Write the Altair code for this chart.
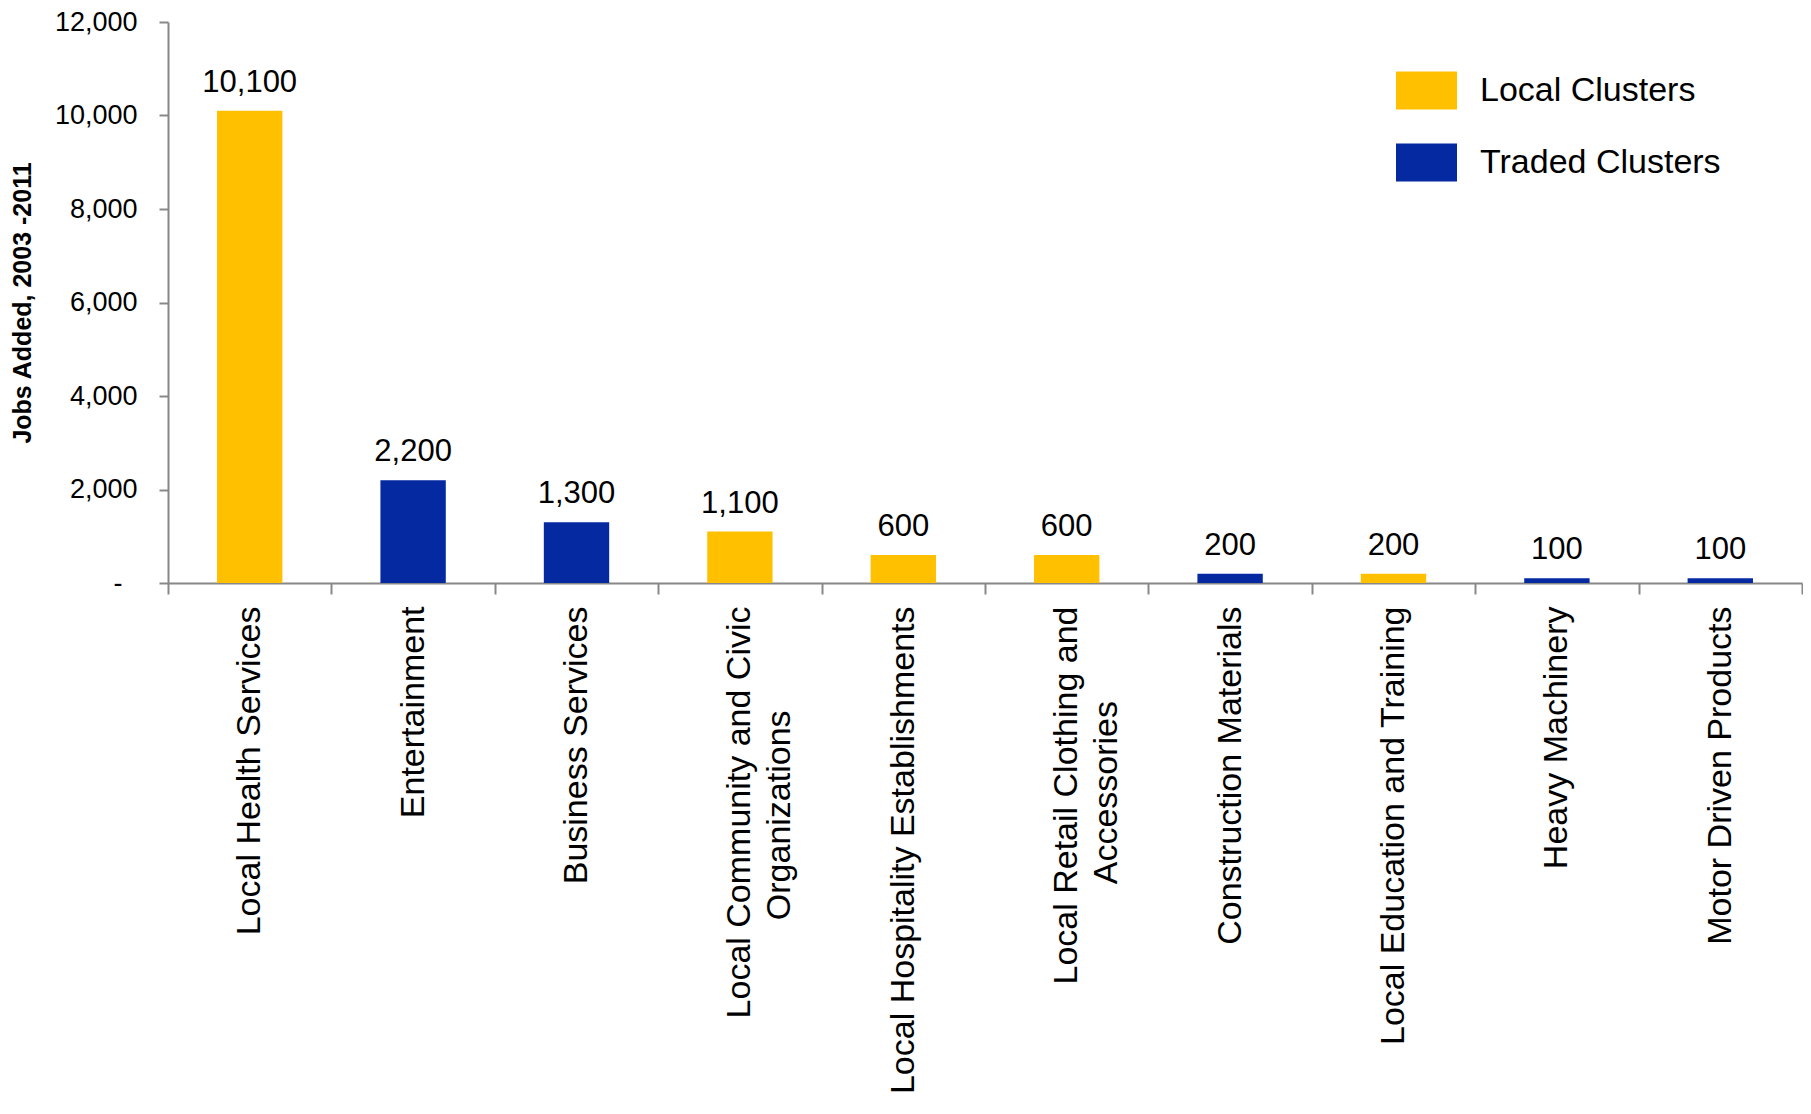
import altair as alt
import pandas as pd

# ---- data ----
categories = [
    "Local Health Services",
    "Entertainment",
    "Business Services",
    "Local Community and Civic|Organizations",
    "Local Hospitality Establishments",
    "Local Retail Clothing and|Accessories",
    "Construction Materials",
    "Local Education and Training",
    "Heavy Machinery",
    "Motor Driven Products",
]
jobs_added = [10100, 2200, 1300, 1100, 600, 600, 200, 200, 100, 100]
cluster_type = [
    "Local Clusters", "Traded Clusters", "Traded Clusters", "Local Clusters",
    "Local Clusters", "Local Clusters", "Traded Clusters", "Local Clusters",
    "Traded Clusters", "Traded Clusters",
]
legend_labels = ["Local Clusters", "Traded Clusters"]
legend_colors = ["#FFC000", "#0529A0"]
y_tick_values = [0, 2000, 4000, 6000, 8000, 10000, 12000]
y_title = "Jobs Added, 2003 -2011"

# padding (non-breaking spaces + zero-width end marker) to centre the
# second line of two-line labels
second_line_pad = {"Organizations": 11, "Accessories": 10}


def display_label(cat):
    parts = cat.split("|")
    if len(parts) == 2:
        n = second_line_pad.get(parts[1], 0)
        parts[1] = parts[1] + "\u00a0" * n + "\u200b"
    return "|".join(parts)


df = pd.DataFrame({
    "category": [display_label(c) for c in categories],
    "jobs": jobs_added,
    "type": cluster_type,
})
order = list(df["category"])

AXIS_GREY = "#888888"
FONT = "Liberation Sans"

x_enc = alt.X(
    "category:N",
    sort=order,
    scale=alt.Scale(paddingInner=0, paddingOuter=0),
    axis=alt.Axis(
        title=None,
        labelAngle=270,
        labelFont=FONT,
        labelFontSize=34,
        labelColor="black",
        labelLimit=0,
        labelOverlap=False,
        labelPadding=12,
        labelLineHeight=40,
        labelExpr="split(datum.label, '|')",
        tickBand="extent",
        tickSize=11,
        tickWidth=2,
        tickColor=AXIS_GREY,
        domainColor=AXIS_GREY,
        domainWidth=2,
    ),
)

y_enc = alt.Y(
    "jobs:Q",
    scale=alt.Scale(domain=[0, 12000], nice=False),
    axis=alt.Axis(
        values=y_tick_values,
        labelExpr="datum.value === 0 ? '-\u00a0\u00a0\u200b' : format(datum.value, ',')",
        title=y_title,
        titleFont=FONT,
        titleFontSize=25,
        titleFontWeight="bold",
        titleColor="black",
        titlePadding=19,
        labelFont=FONT,
        labelFontSize=27,
        labelColor="black",
        labelPadding=22,
        tickSize=9,
        tickWidth=2,
        tickColor=AXIS_GREY,
        domainColor=AXIS_GREY,
        domainWidth=2,
        grid=False,
    ),
)

bars = alt.Chart(df).mark_bar(width=alt.RelativeBandSize(0.4)).encode(
    x=x_enc,
    y=y_enc,
    color=alt.Color(
        "type:N",
        scale=alt.Scale(domain=legend_labels, range=legend_colors),
        legend=alt.Legend(
            title=None,
            orient="none",
            legendX=1228,
            legendY=38,
            padding=0,
            symbolType="M-1,-0.623H1V0.623H-1Z",
            symbolSize=3721,
            symbolStrokeWidth=0,
            symbolOpacity=1,
            labelFont=FONT,
            labelFontSize=34,
            labelColor="black",
            labelLimit=0,
            labelOffset=23,
            rowPadding=22,
        ),
    ),
)

labels = alt.Chart(df).mark_text(
    font=FONT, fontSize=31, color="black", baseline="alphabetic", dy=-19
).encode(
    x=alt.X("category:N", sort=order),
    y=alt.Y("jobs:Q"),
    text=alt.Text("jobs:Q", format=","),
)

chart = (
    alt.layer(bars, labels)
    .properties(
        width=1634,
        height=561,
        autosize=alt.AutoSizeParams(type="none"),
        padding={"left": 160, "top": 14, "right": 1, "bottom": 517},
        background="white",
    )
    .configure_view(stroke=None)
)

chart.save("out.html", embed_options={"renderer": "svg", "actions": False})
